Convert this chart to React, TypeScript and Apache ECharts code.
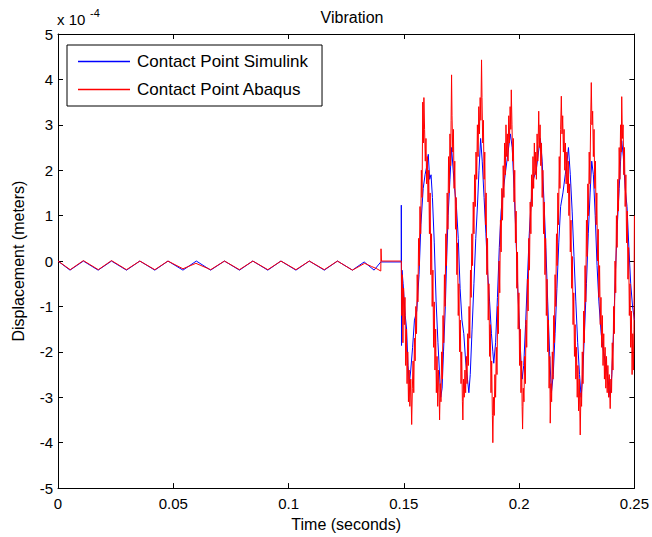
import React, { useEffect, useRef } from "react";
import * as echarts from "echarts";

// ---- axis ranges / ticks ----
const X_MIN = 0;
const X_MAX = 0.25;
const X_STEP = 0.05;
const Y_MIN = -5;
const Y_MAX = 5;
const Y_STEP = 1;

const TITLE = "Vibration";
const X_NAME = "Time (seconds)";
const Y_NAME = "Displacement (meters)";
const SERIES_NAMES = ["Contact Point Simulink", "Contact Point Abaqus"];

// ---- data: [time (s), displacement (x 1e-4 m)] ----
const startupSimulink: number[][] = [
  [0, 0], [0.0052, -0.2], [0.011, 0], [0.0174, -0.2], [0.0232, 0], [0.0297, -0.2],
  [0.0355, 0], [0.042, -0.2], [0.0477, 0], [0.0542, -0.2], [0.06, 0], [0.0662, -0.2],
  [0.0722, 0], [0.0787, -0.2], [0.0845, 0], [0.091, -0.2], [0.0967, 0], [0.1032, -0.2],
  [0.109, 0], [0.1155, -0.2], [0.1212, 0], [0.1277, -0.2], [0.1328, -0.02], [0.1371, -0.2],
  [0.14, -0.02], [0.1489, -0.02],
];

const impactSimulink: number[][] = [
  [0.1489, 1.23], [0.149, -1.86], [0.1492, -0.2], [0.1497, -0.5], [0.1502, -0.9], [0.1506, -1.2],
  [0.1512, -1.5], [0.1518, -2.3], [0.1524, -2.7], [0.153, -2.4], [0.1538, -1.9], [0.1546, -1.3],
  [0.1556, -1.1], [0.1566, -0.3], [0.1574, 0.8], [0.1584, 1.6], [0.1592, 1.9], [0.16, 2.1],
  [0.1606, 2.35], [0.1612, 1.8], [0.1618, 1.9], [0.1624, 1.4], [0.1632, 0.4], [0.164, -0.9],
  [0.1648, -1.8], [0.1654, -2.4], [0.166, -3.0], [0.1666, -2.8], [0.1672, -2.0], [0.168, -1.0],
  [0.1686, 0.1], [0.1692, 1.0], [0.17, 1.8], [0.1707, 2.5], [0.1714, 2.0], [0.172, 1.6],
  [0.1728, 1.2], [0.1736, 0.5], [0.1744, -0.6], [0.1752, -1.3], [0.176, -1.6], [0.1768, -2.2],
  [0.1776, -2.6], [0.1782, -2.9], [0.1788, -2.5], [0.1796, -1.5], [0.1804, -0.5], [0.1812, 0.5],
  [0.182, 1.3], [0.1826, 2.0], [0.1833, 2.7], [0.184, 2.2], [0.1848, 1.4], [0.1856, 0.6],
  [0.1864, -0.3], [0.1872, -0.9], [0.188, -1.6], [0.1886, -2.0], [0.189, -2.25], [0.1898, -1.8],
  [0.1906, -0.8], [0.1914, 0.3], [0.1922, 1.1], [0.1932, 1.6], [0.1942, 2.0], [0.1952, 2.4],
  [0.1962, 2.8], [0.197, 2.5], [0.1978, 1.6], [0.1986, 0.6], [0.1994, -0.6], [0.2002, -1.5],
  [0.2008, -2.2], [0.2013, -2.6], [0.202, -2.3], [0.2028, -1.4], [0.2036, -0.4], [0.2044, 0.6],
  [0.2052, 1.3], [0.2062, 1.8], [0.2074, 2.0], [0.2084, 2.4], [0.2092, 2.7], [0.21, 2.2],
  [0.2108, 1.3], [0.2116, 0.3], [0.2124, -0.9], [0.2132, -2.0], [0.214, -2.9], [0.2148, -2.5],
  [0.2156, -1.6], [0.2164, -0.6], [0.2172, 0.4], [0.218, 1.2], [0.219, 1.5], [0.22, 1.9],
  [0.2208, 2.2], [0.2214, 2.5], [0.2222, 1.9], [0.223, 1.1], [0.2238, 0.1], [0.2246, -0.9],
  [0.2254, -1.8], [0.2262, -2.5], [0.2269, -3.0], [0.2276, -2.5], [0.2284, -1.5], [0.2292, -0.5],
  [0.23, 0.6], [0.2308, 1.5], [0.2315, 2.2], [0.2322, 1.9], [0.233, 1.0], [0.2338, -0.1],
  [0.2346, -0.9], [0.2356, -1.6], [0.2366, -2.0], [0.238, -2.4], [0.2395, -3.0], [0.2402, -2.5],
  [0.241, -1.5], [0.2418, -0.2], [0.2426, 0.8], [0.2434, 1.6], [0.244, 2.2], [0.2445, 2.65],
  [0.2452, 2.3], [0.246, 1.6], [0.2468, 1.2], [0.2476, 0.3], [0.2484, -0.5], [0.2492, -1.0],
  [0.25, -1.3],
];

const startupAbaqus: number[][] = [
  [0, 0], [0.0053, -0.19], [0.011, 0.01], [0.0175, -0.19], [0.0232, 0.01], [0.0297, -0.19],
  [0.0355, 0], [0.042, -0.19], [0.0477, 0], [0.0542, -0.17], [0.0598, -0.05], [0.0662, -0.19],
  [0.0722, 0], [0.0787, -0.19], [0.0845, 0], [0.091, -0.19], [0.0967, 0], [0.1032, -0.19],
  [0.109, 0], [0.1155, -0.19], [0.1212, 0], [0.1277, -0.2], [0.133, -0.05], [0.136, -0.12],
  [0.1383, -0.17], [0.14, -0.22], [0.1401, 0.27], [0.1403, 0], [0.1489, 0],
];

const impactAbaqus: number[][] = [
  [0.1491, -1.2], [0.1493, -0.3], [0.1496, -1.8], [0.1499, -0.6], [0.1502, -1.4], [0.1505, -0.8],
  [0.1508, -2.3], [0.1511, -1.5], [0.1514, -2.7], [0.1517, -2.0], [0.152, -3.1], [0.1523, -2.4],
  [0.1526, -3.2], [0.153, -2.6], [0.1534, -3.6], [0.1537, -2.8],
  [0.154, -2.2], [0.1543, -2.9], [0.1546, -1.7], [0.1549, -2.2], [0.1552, -1.0], [0.1555, -1.6],
  [0.1558, -0.3], [0.1561, -0.9], [0.1564, 0.5], [0.1567, -0.1], [0.157, 1.2], [0.1573, 0.6],
  [0.1576, 2.0], [0.1579, 1.4], [0.1582, 3.5], [0.1585, 2.6], [0.1587, 3.6], [0.159, 2.9],
  [0.1593, 2.2], [0.1596, 2.7], [0.1599, 1.7], [0.1602, 2.3], [0.1605, 1.3], [0.1608, 2.0],
  [0.1611, 0.6], [0.1614, 1.5], [0.1617, -0.3], [0.162, 0.6], [0.1623, -1.0], [0.1626, -0.2],
  [0.1629, -1.9], [0.1632, -0.9], [0.1635, -2.4], [0.1638, -1.5], [0.1641, -2.9], [0.1644, -2.1],
  [0.1647, -3.2], [0.165, -2.4], [0.1653, -2.9], [0.1655, -3.5], [0.1658, -2.7],
  [0.1661, -3.1], [0.1664, -2.0], [0.1667, -2.6], [0.167, -1.2], [0.1673, -1.8], [0.1676, -0.3],
  [0.1679, -1.0], [0.1682, 0.6], [0.1685, -0.1], [0.1688, 1.5], [0.1691, 0.7], [0.1694, 2.3],
  [0.1697, 1.5], [0.17, 2.8], [0.1703, 2.1], [0.1705, 3.1], [0.1707, 4.1], [0.1709, 3.2],
  [0.1712, 2.4], [0.1715, 2.9], [0.1718, 1.6], [0.1721, 2.2], [0.1724, 0.7], [0.1727, 1.4],
  [0.173, -0.3], [0.1733, 0.4], [0.1736, -1.2], [0.1739, -0.5], [0.1742, -2.0], [0.1745, -1.3],
  [0.1748, -2.7], [0.1751, -2.0], [0.1754, -3.1], [0.1756, -3.5], [0.1759, -2.6],
  [0.1762, -3.0], [0.1765, -2.4], [0.1768, -2.9], [0.1771, -2.1], [0.1774, -2.7], [0.1777, -1.6],
  [0.178, -2.3], [0.1783, -1.0], [0.1786, -1.7], [0.1789, -0.2], [0.1792, -0.8], [0.1795, 0.6],
  [0.1798, -0.1], [0.1801, 1.3], [0.1804, 0.6], [0.1807, 1.9], [0.181, 1.2], [0.1813, 2.4],
  [0.1816, 1.8], [0.1819, 3.0], [0.1822, 2.3], [0.1825, 3.4], [0.1828, 2.8], [0.1831, 3.6],
  [0.1834, 3.1], [0.1837, 4.43], [0.1839, 3.6],
  [0.1842, 2.6], [0.1845, 3.1], [0.1848, 1.8], [0.1851, 2.4], [0.1854, 0.8], [0.1857, 1.5],
  [0.186, -0.3], [0.1863, 0.5], [0.1866, -1.3], [0.1869, -0.5], [0.1872, -2.1], [0.1875, -1.4],
  [0.1878, -2.9], [0.1881, -2.2], [0.1884, -3.4], [0.1886, -4.0], [0.1889, -3.0],
  [0.1892, -3.4], [0.1895, -2.5], [0.1898, -3.0], [0.1901, -1.9], [0.1904, -2.5], [0.1907, -1.0],
  [0.191, -1.6], [0.1913, 0.0], [0.1916, -0.7], [0.1919, 0.9], [0.1922, 0.2], [0.1925, 1.6],
  [0.1928, 0.9], [0.1931, 2.1], [0.1934, 1.4], [0.1937, 2.6], [0.194, 1.9], [0.1943, 3.0],
  [0.1946, 2.3], [0.1949, 2.8], [0.1952, 2.2], [0.1955, 3.2], [0.1958, 2.6], [0.1961, 3.4],
  [0.1964, 2.9], [0.1966, 3.77], [0.1969, 3.0],
  [0.1972, 2.2], [0.1975, 2.7], [0.1978, 1.3], [0.1981, 2.0], [0.1984, 0.4], [0.1987, 1.1],
  [0.199, -0.6], [0.1993, 0.2], [0.1996, -1.5], [0.1999, -0.7], [0.2002, -2.3], [0.2005, -1.5],
  [0.2008, -2.9], [0.2011, -2.2], [0.2013, -3.2], [0.2015, -3.7], [0.2018, -2.8],
  [0.2021, -3.1], [0.2024, -2.1], [0.2027, -2.7], [0.203, -1.3], [0.2033, -1.9], [0.2036, -0.4],
  [0.2039, -1.1], [0.2042, 0.5], [0.2045, -0.2], [0.2048, 1.3], [0.2051, 0.6], [0.2054, 1.9],
  [0.2057, 1.2], [0.206, 2.3], [0.2063, 1.6], [0.2066, 2.6], [0.2069, 1.9], [0.2072, 2.4],
  [0.2075, 1.8], [0.2078, 2.8], [0.2081, 2.2], [0.2085, 3.3], [0.2088, 2.5], [0.2091, 3.0],
  [0.2094, 2.1], [0.2097, 2.6], [0.21, 1.4], [0.2103, 2.0], [0.2106, 0.6], [0.2109, 1.3],
  [0.2112, -0.3], [0.2115, 0.5], [0.2118, -1.2], [0.2121, -0.4], [0.2124, -2.0], [0.2127, -1.3],
  [0.213, -2.8], [0.2133, -2.1], [0.2135, -3.57], [0.2138, -2.7],
  [0.2141, -3.1], [0.2144, -2.0], [0.2147, -2.6], [0.215, -1.2], [0.2153, -1.8], [0.2156, -0.3],
  [0.2159, -1.0], [0.2162, 0.6], [0.2165, -0.1], [0.2168, 1.5], [0.2171, 0.8], [0.2174, 2.3],
  [0.2177, 1.6], [0.218, 2.9], [0.2183, 3.63], [0.2186, 2.8],
  [0.2189, 3.2], [0.2192, 2.4], [0.2195, 2.9], [0.2198, 2.0], [0.2201, 2.6], [0.2204, 1.7],
  [0.2207, 2.4], [0.221, 1.5], [0.2213, 2.2], [0.2216, 1.0], [0.2219, 1.7], [0.2222, 0.2],
  [0.2225, 0.9], [0.2228, -0.6], [0.2231, 0.1], [0.2234, -1.4], [0.2237, -0.7], [0.224, -2.1],
  [0.2243, -1.4], [0.2246, -2.6], [0.2249, -1.9], [0.2252, -3.0], [0.2255, -2.3], [0.2258, -3.3],
  [0.2261, -2.6], [0.2265, -3.83], [0.2268, -2.9],
  [0.2271, -3.2], [0.2274, -2.0], [0.2277, -2.7], [0.228, -1.1], [0.2283, -1.8], [0.2286, -0.1],
  [0.2289, -0.9], [0.2292, 0.9], [0.2295, 0.1], [0.2298, 1.7], [0.2301, 1.0], [0.2304, 2.4],
  [0.2307, 1.7], [0.231, 3.0], [0.2313, 3.93], [0.2316, 3.0],
  [0.2319, 3.3], [0.2322, 2.3], [0.2325, 2.9], [0.2328, 1.6], [0.2331, 2.2], [0.2334, 0.8],
  [0.2337, 1.5], [0.234, 0.0], [0.2343, 0.7], [0.2346, -0.8], [0.2349, -0.1], [0.2352, -1.4],
  [0.2355, -0.8], [0.2358, -1.9], [0.2361, -1.2], [0.2364, -2.3], [0.2367, -1.6], [0.237, -2.6],
  [0.2373, -1.9], [0.2376, -2.8], [0.2379, -2.1], [0.2382, -2.9], [0.2385, -2.3], [0.2388, -3.0],
  [0.2391, -2.5], [0.2395, -3.25], [0.2398, -2.6],
  [0.2401, -2.9], [0.2404, -1.8], [0.2407, -2.4], [0.241, -1.0], [0.2413, -1.6], [0.2416, 0.0],
  [0.2419, -0.7], [0.2422, 1.0], [0.2425, 0.3], [0.2428, 1.8], [0.2431, 1.1], [0.2434, 2.5],
  [0.2437, 1.8], [0.244, 3.0], [0.2443, 2.4], [0.2445, 3.62], [0.2448, 2.7],
  [0.2451, 3.0], [0.2454, 1.9], [0.2457, 2.5], [0.246, 1.2], [0.2463, 1.9], [0.2466, 0.4],
  [0.2469, 1.1], [0.2472, -0.4], [0.2475, 0.3], [0.2478, -1.2], [0.2481, -0.5], [0.2484, -1.9],
  [0.2487, -1.1], [0.249, -2.5], [0.2493, -1.6], [0.2496, -2.4], [0.2498, -1.5], [0.25, 1.0],
];

const FONT = "'Liberation Sans', Arial, Helvetica, sans-serif";

export default function App() {
  const ref = useRef<HTMLDivElement>(null);

  useEffect(() => {
    if (!ref.current) return;
    const chart = echarts.init(ref.current, undefined, { renderer: "svg" });
    const grid = { left: 58, top: 34, right: 16, bottom: 47 };
    const axisLine = { show: true, onZero: false, lineStyle: { color: "#000", width: 1 } };
    const tick = { show: true, inside: true, length: 5, lineStyle: { color: "#000" } };

    chart.setOption({
      animation: false,
      backgroundColor: "#fff",
      title: {
        text: TITLE,
        left: 347,
        top: 4,
        textAlign: "center",
        textStyle: { fontFamily: FONT, fontSize: 16, fontWeight: "normal", color: "#000" },
      },
      grid: { ...grid, containLabel: false },
      legend: {
        data: SERIES_NAMES,
        orient: "vertical",
        left: 67,
        top: 45,
        padding: [8, 14, 8, 11],
        icon: "rect",
        itemWidth: 52,
        itemHeight: 1.5,
        itemGap: 11,
        backgroundColor: "#fff",
        borderColor: "#000",
        borderWidth: 1,
        borderRadius: 0,
        textStyle: { fontFamily: FONT, fontSize: 17, lineHeight: 14, color: "#000", padding: [0, 0, 0, 2] },
      },
      xAxis: [
        {
          type: "value",
          min: X_MIN,
          max: X_MAX,
          interval: X_STEP,
          position: "bottom",
          axisLine,
          axisTick: tick,
          splitLine: { show: false },
          axisLabel: { fontFamily: FONT, fontSize: 15, color: "#000", margin: 8 },
          name: X_NAME,
          nameLocation: "middle",
          nameGap: 26,
          nameTextStyle: { fontFamily: FONT, fontSize: 16, color: "#000" },
        },
        {
          type: "value",
          min: X_MIN,
          max: X_MAX,
          interval: X_STEP,
          position: "top",
          axisLine,
          axisTick: tick,
          splitLine: { show: false },
          axisLabel: { show: false },
        },
      ],
      yAxis: [
        {
          type: "value",
          min: Y_MIN,
          max: Y_MAX,
          interval: Y_STEP,
          position: "left",
          axisLine,
          axisTick: tick,
          splitLine: { show: false },
          axisLabel: { fontFamily: FONT, fontSize: 15, color: "#000", margin: 5 },
          name: Y_NAME,
          nameLocation: "middle",
          nameGap: 32,
          nameTextStyle: { fontFamily: FONT, fontSize: 16, color: "#000" },
        },
        {
          type: "value",
          min: Y_MIN,
          max: Y_MAX,
          interval: Y_STEP,
          position: "right",
          axisLine,
          axisTick: tick,
          splitLine: { show: false },
          axisLabel: { show: false },
        },
      ],
      graphic: [
        {
          type: "text",
          left: 57,
          top: 12,
          style: { text: "x 10", fontFamily: FONT, fontSize: 15, fill: "#000" },
        },
        {
          type: "text",
          left: 90,
          top: 7,
          style: { text: "-4", fontFamily: FONT, fontSize: 11, fill: "#000" },
        },
      ],
      series: [
        {
          name: SERIES_NAMES[0],
          type: "line",
          xAxisIndex: 0,
          yAxisIndex: 0,
          data: [...startupSimulink, ...impactSimulink],
          symbol: "none",
          showSymbol: false,
          lineStyle: { color: "#0000ff", width: 1 },
          itemStyle: { color: "#0000ff" },
          z: 2,
        },
        {
          name: SERIES_NAMES[1],
          type: "line",
          xAxisIndex: 0,
          yAxisIndex: 0,
          data: [...startupAbaqus, ...impactAbaqus],
          symbol: "none",
          showSymbol: false,
          lineStyle: { color: "#ff0000", width: 1 },
          itemStyle: { color: "#ff0000" },
          z: 3,
        },
      ],
    });
    return () => chart.dispose();
  }, []);

  return (
    <div
      ref={ref}
      style={{ position: "fixed", left: 0, top: 0, width: 652, height: 537, background: "#fff" }}
    />
  );
}
